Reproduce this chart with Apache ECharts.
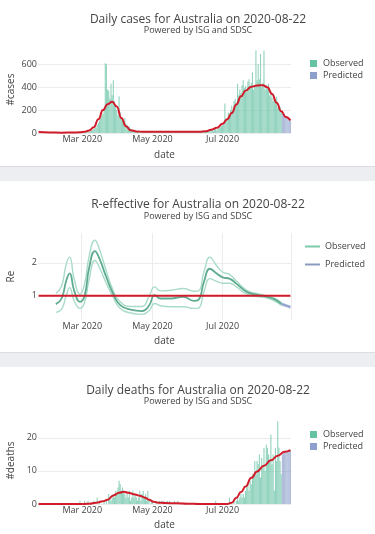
<!DOCTYPE html>
<html>
<head>
<meta charset="utf-8">
<script src="https://cdn.jsdelivr.net/npm/echarts@6/dist/echarts.min.js"></script>
<style>
  html, body { margin: 0; padding: 0; background: #fff; }
  .panel { width: 375px; }
  .band { width: 375px; height: 15px; background: #eceef2; border-top: 1px solid #dadde3; box-sizing: border-box; }
</style>
</head>
<body>
<div id="cases" class="panel" style="height:166px"></div>
<div class="band"></div>
<div id="reff" class="panel" style="height:171px"></div>
<div class="band"></div>
<div id="deaths" class="panel" style="height:167px"></div>
<script>
// x axis: one category per day, 2020-01-23 .. 2020-08-29
const startDate = '2020-01-23';
const dayCount = 220;
const tickDates = ['2020-03-01', '2020-05-01', '2020-07-01'];
const tickLabels = ['Mar 2020', 'May 2020', 'Jul 2020'];

// daily cases, observed up to 2020-08-21, predicted after
const casesObserved = [
  0, 0, 1, 1, 2, 1, 0, 1, 1, 0,
  2, 1, 0, 1, 0, 0, 1, 0, 0, 0,
  0, 0, 1, 0, 0, 0, 0, 1, 0, 0,
  1, 0, 2, 0, 1, 0, 2, 1,
  3, 2, 4, 8, 11, 12, 9,
  14, 20, 23, 35, 50, 45, 70, 90, 110, 130, 150, 170, 210,
  610, 600, 380, 370, 300, 430, 330, 460, 280, 250, 200, 150,
  320, 180, 140, 110, 100, 130, 80, 70, 55, 60, 40, 30, 25,
  30, 20, 18, 15, 20, 12, 10, 16, 10, 12,
  14, 8, 12, 15, 10, 18, 13,
  10, 12, 15, 9, 14, 20, 16, 12, 10, 18,
  14, 12, 16, 20, 11, 13, 10, 8, 15, 12,
  10, 14, 9, 12, 8, 11, 15, 10, 9, 12,
  8, 11, 10, 14, 9, 7, 10, 12, 15, 11,
  13, 10, 18, 14, 20, 16, 22, 25, 19, 28,
  20, 25, 18, 30, 35, 25, 40, 45, 50, 60, 70, 80,
  258, 100, 130, 180, 150, 200, 240, 190, 280, 300,
  260, 430, 330, 380, 350, 420, 460, 390, 410, 360,
  450, 470, 400, 440, 530, 380, 420, 720, 460, 600,
  470, 690, 400, 440, 720, 380, 420, 400, 430, 330,
  360, 310, 280, 300, 260, 316, 220, 240, 230, 190
];
const casesPredicted = [170, 160, 150, 140, 130, 125, 118, 110];

// smoothed case curve (red)
const casesTrendDates = [
  '2020-01-23', '2020-02-02', '2020-02-12', '2020-02-22', '2020-02-28', '2020-03-03', '2020-03-07',
  '2020-03-11', '2020-03-15', '2020-03-19', '2020-03-23', '2020-03-27', '2020-03-31', '2020-04-04',
  '2020-04-08', '2020-04-12', '2020-04-17', '2020-04-24', '2020-05-02', '2020-05-12', '2020-05-22',
  '2020-06-01', '2020-06-11', '2020-06-16', '2020-06-21', '2020-06-26', '2020-07-01', '2020-07-05',
  '2020-07-09', '2020-07-13', '2020-07-17', '2020-07-21', '2020-07-26', '2020-07-31', '2020-08-05',
  '2020-08-09', '2020-08-13', '2020-08-17', '2020-08-21', '2020-08-25', '2020-08-29'
];
const casesTrendValues = [
  8, 5, 3, 4, 6, 10, 22,
  50, 120, 200, 252, 272, 232, 130,
  60, 25, 14, 10, 12, 12, 11,
  10, 10, 15, 28, 45, 80, 120,
  175, 250, 320, 370, 405, 415, 418,
  400, 340, 265, 190, 140, 110
];

// daily deaths
const deathsObserved = [
  0, 0, 0, 0, 0, 0, 0, 0, 0, 0,
  0, 0, 0, 0, 0, 0, 0, 0, 0, 0,
  0, 0, 0, 0, 0, 0, 0, 0, 0, 0,
  0, 0, 0, 0, 0, 0,
  1, 0, 0, 0, 1, 0, 0, 1, 0, 0, 0, 0, 1, 0,
  0, 2, 0, 1, 0, 0, 0, 1, 0, 1,
  0, 3, 2, 1, 2, 3, 2, 4, 3, 5,
  7, 6, 4, 5, 4, 3, 2, 3, 2, 4,
  1, 2, 4, 2, 3, 2, 1, 2, 4, 1,
  3, 4, 2, 3, 1, 4, 1, 0, 1, 1,
  0, 0, 1, 0, 0, 1, 0, 1, 0, 1,
  0, 0, 1, 0, 1, 0, 0, 0, 1, 0,
  0, 1, 0, 0, 0, 0, 0, 0, 0, 0,
  0, 0, 0, 0, 0, 0, 0, 0, 0, 0,
  0, 0, 0, 0, 0, 0, 0, 0, 0, 0,
  0, 0, 0, 0, 1, 0, 0, 0, 0, 0,
  0, 0, 0, 0, 0, 0, 2, 0, 0, 0,
  1, 0, 1, 2, 1, 2, 3, 2,
  3, 2, 4, 5, 6, 4, 7, 6, 9, 8,
  13, 9, 13, 12, 15, 8, 14, 11, 17, 10,
  18, 17, 15, 13, 21, 12, 15, 4, 17, 13,
  25, 17, 13, 9
];
const deathsPredicted = [15, 15.3, 15.6, 15.8, 16, 16.1, 16.2, 16.3];

const deathsTrendDates = [
  '2020-01-23', '2020-03-03', '2020-03-07', '2020-03-13', '2020-03-19', '2020-03-23', '2020-03-28',
  '2020-04-02', '2020-04-06', '2020-04-10', '2020-04-16', '2020-04-20', '2020-04-24', '2020-04-28',
  '2020-05-02', '2020-05-06', '2020-05-12', '2020-05-22', '2020-06-01', '2020-06-11', '2020-07-05',
  '2020-07-09', '2020-07-13', '2020-07-17', '2020-07-21', '2020-07-26', '2020-07-31', '2020-08-06',
  '2020-08-12', '2020-08-18', '2020-08-24', '2020-08-29'
];
const deathsTrendValues = [
  0, 0, 0.1, 0.4, 0.8, 1.3, 2.6,
  3.4, 3.7, 3.4, 2.9, 2.5, 2.0, 1.3,
  0.7, 0.4, 0.3, 0.2, 0.1, 0, 0,
  0.4, 1.9, 3.6, 5.3, 7.9, 9.8, 11.6,
  13.2, 14.6, 15.8, 16.3
];

// R-effective, mean with its band
const rDates = [
  '2020-02-07', '2020-02-12', '2020-02-16', '2020-02-19', '2020-02-23', '2020-02-28', '2020-03-03',
  '2020-03-07', '2020-03-12', '2020-03-16', '2020-03-21', '2020-03-28', '2020-04-03', '2020-04-12',
  '2020-04-22', '2020-04-28', '2020-05-03', '2020-05-08', '2020-05-17', '2020-05-28', '2020-06-06',
  '2020-06-10', '2020-06-15', '2020-06-20', '2020-06-25', '2020-07-01', '2020-07-07', '2020-07-13',
  '2020-07-22', '2020-07-31', '2020-08-08', '2020-08-15', '2020-08-21'
];
const rMean = [
  0.75, 0.92, 1.45, 1.68, 1.15, 0.82, 1.0,
  1.85, 2.35, 2.12, 1.65, 1.05, 0.72, 0.58,
  0.54, 0.7, 1.02, 0.92, 0.92, 0.97, 0.85,
  0.88, 1.45, 1.82, 1.7, 1.56, 1.52, 1.37,
  1.12, 1.03, 0.98, 0.9, 0.76
];
const rUpper = [
  1.07, 1.3, 1.95, 2.17, 1.5, 1.05, 1.35,
  2.2, 2.68, 2.4, 1.85, 1.15, 0.82, 0.68,
  0.68, 0.98, 1.27, 1.15, 1.17, 1.22, 1.14,
  1.15, 1.75, 2.17, 1.95, 1.72, 1.65, 1.45,
  1.17, 1.07, 1.0, 0.93, 0.79
];
const rLower = [
  0.5, 0.6, 1.0, 1.25, 0.85, 0.62, 0.8,
  1.5, 2.07, 1.85, 1.45, 0.95, 0.62, 0.48,
  0.44, 0.55, 0.77, 0.7, 0.67, 0.67, 0.62,
  0.63, 1.15, 1.52, 1.45, 1.38, 1.38, 1.27,
  1.05, 0.98, 0.94, 0.85, 0.72
];
const rPredDates = ['2020-08-21', '2020-08-25', '2020-08-29'];
const rPredMean = [0.76, 0.71, 0.66];
const rPredUpper = [0.79, 0.74, 0.69];
const rPredLower = [0.72, 0.68, 0.63];
const rThreshold = 1;

const dates = [];
const d0 = new Date(startDate + 'T00:00:00Z');
for (let i = 0; i < dayCount; i++) {
  dates.push(new Date(d0.getTime() + i * 86400000).toISOString().slice(0, 10));
}

const fontFamily = "'Open Sans', sans-serif";
const textColor = '#444';
const gridColor = '#ececec';
const obsColor = '#66c2a5';
const predColor = '#8da0cb';
const trendColor = '#d01c2a';

function makeTitle(text, top, gap) {
  return {
    text: text,
    subtext: 'Powered by ISG and SDSC',
    left: 193,
    textAlign: 'center',
    top: top,
    itemGap: gap,
    textStyle: { fontSize: 12, fontWeight: 'normal', color: textColor, fontFamily: fontFamily },
    subtextStyle: { fontSize: 9, color: textColor, fontFamily: fontFamily }
  };
}

function makeGrid(top, bottom) {
  return { left: 38, right: 84, top: top, bottom: bottom, containLabel: false, outerBoundsMode: 'none' };
}

function makeXAxis(showSplit, nameGap) {
  return {
    type: 'category',
    data: dates,
    boundaryGap: true,
    name: 'date',
    nameLocation: 'middle',
    nameGap: nameGap,
    nameMoveOverlap: false,
    nameTextStyle: { color: textColor, fontSize: 10, fontFamily: fontFamily },
    axisLine: { show: false },
    axisTick: { show: false },
    axisLabel: {
      interval: (i, v) => tickDates.includes(v),
      formatter: v => tickLabels[tickDates.indexOf(v)],
      color: textColor, fontSize: 9, fontFamily: fontFamily, margin: 2
    },
    splitLine: {
      show: showSplit,
      interval: (i, v) => tickDates.includes(v),
      lineStyle: { color: gridColor, width: 1 }
    }
  };
}

function makeYAxis(name, min, max, ticks) {
  return {
    type: 'value',
    min: min,
    max: max,
    name: name,
    nameLocation: 'middle',
    nameRotate: 90,
    nameGap: 22,
    nameMoveOverlap: false,
    nameTextStyle: { color: textColor, fontSize: 10, fontFamily: fontFamily },
    axisLine: { show: false },
    axisTick: { show: false, customValues: ticks },
    axisLabel: { customValues: ticks, color: textColor, fontSize: 9, fontFamily: fontFamily, margin: 1 },
    splitLine: { show: true, lineStyle: { color: gridColor, width: 1 } }
  };
}

function spread(values, offset) {
  return dates.map((d, i) => {
    const j = i - offset;
    return j >= 0 && j < values.length ? values[j] : null;
  });
}

function barSeries(name, values, offset, color) {
  return {
    name: name,
    type: 'bar',
    data: spread(values, offset),
    barGap: '-100%',
    barCategoryGap: '4%',
    itemStyle: { color: color, opacity: 0.72 },
    silent: true
  };
}

function trendSeries(trendDates, trendValues) {
  return {
    name: 'trend',
    type: 'line',
    data: trendDates.map((d, i) => [d, trendValues[i]]),
    smooth: 0.5,
    smoothMonotone: 'x',
    symbol: 'none',
    lineStyle: { color: trendColor, width: 2 },
    z: 5,
    silent: true
  };
}

function barLegend(top) {
  return {
    orient: 'vertical',
    left: 305,
    top: top,
    itemWidth: 7,
    itemHeight: 7,
    itemGap: 1,
    icon: 'rect',
    textStyle: { color: textColor, fontSize: 9, fontFamily: fontFamily, lineHeight: 11, padding: [0, 0, 0, 1] },
    data: [
      { name: 'Observed', itemStyle: { color: obsColor, opacity: 1 } },
      { name: 'Predicted', itemStyle: { color: predColor, opacity: 1 } }
    ]
  };
}

// daily cases
const casesChart = echarts.init(document.getElementById('cases'));
casesChart.setOption({
  animation: false,
  title: makeTitle('Daily cases for Australia on 2020-08-22', 9, 0),
  legend: barLegend(53),
  grid: makeGrid(46, 33),
  xAxis: makeXAxis(false, 17),
  yAxis: makeYAxis('#cases', 0, 760, [0, 200, 400, 600]),
  series: [
    barSeries('Observed', casesObserved, 0, obsColor),
    barSeries('Predicted', casesPredicted, casesObserved.length, predColor),
    trendSeries(casesTrendDates, casesTrendValues)
  ]
});

// R-effective
const rLine = (name, xs, ys, color, width, z) => ({
  name: name,
  type: 'line',
  data: xs.map((d, i) => [d, ys[i]]),
  smooth: 0.5,
  symbol: 'none',
  itemStyle: { color: color },
  lineStyle: { color: color, width: width },
  z: z,
  silent: true
});
const reffChart = echarts.init(document.getElementById('reff'));
reffChart.setOption({
  animation: false,
  title: makeTitle('R-effective for Australia on 2020-08-22', 13, 1),
  legend: {
    orient: 'vertical',
    left: 300,
    top: 55,
    itemWidth: 15,
    itemHeight: 2,
    itemGap: 7,
    icon: 'rect',
    textStyle: { color: textColor, fontSize: 9, fontFamily: fontFamily, lineHeight: 11, padding: [0, 0, 0, 0] },
    data: [
      { name: 'Observed', itemStyle: { color: '#7cc9ac' } },
      { name: 'Predicted', itemStyle: { color: '#8a9bbf' } }
    ]
  },
  grid: makeGrid(52, 32),
  xAxis: makeXAxis(true, 16),
  yAxis: makeYAxis('Re', 0.27, 2.9, [1, 2]),
  series: [
    rLine('Observed upper', rDates, rUpper, '#a9dcc8', 1.4, 2),
    rLine('Observed lower', rDates, rLower, '#a9dcc8', 1.4, 2),
    rLine('Observed', rDates, rMean, '#5eab8f', 1.8, 3),
    rLine('Predicted upper', rPredDates, rPredUpper, '#b4c0dc', 1.2, 2),
    rLine('Predicted lower', rPredDates, rPredLower, '#b4c0dc', 1.2, 2),
    rLine('Predicted', rPredDates, rPredMean, '#8da0cb', 1.5, 3),
    rLine('threshold', [dates[0], dates[dates.length - 1]], [rThreshold, rThreshold], trendColor, 2, 5)
  ]
});

// daily deaths
const deathsChart = echarts.init(document.getElementById('deaths'));
deathsChart.setOption({
  animation: false,
  title: makeTitle('Daily deaths for Australia on 2020-08-22', 13, 0),
  legend: barLegend(57),
  grid: makeGrid(50, 30),
  xAxis: makeXAxis(false, 16),
  yAxis: makeYAxis('#deaths', 0, 26.3, [0, 10, 20]),
  series: [
    barSeries('Observed', deathsObserved, 0, obsColor),
    barSeries('Predicted', deathsPredicted, deathsObserved.length, predColor),
    trendSeries(deathsTrendDates, deathsTrendValues)
  ]
});
</script>
</body>
</html>
